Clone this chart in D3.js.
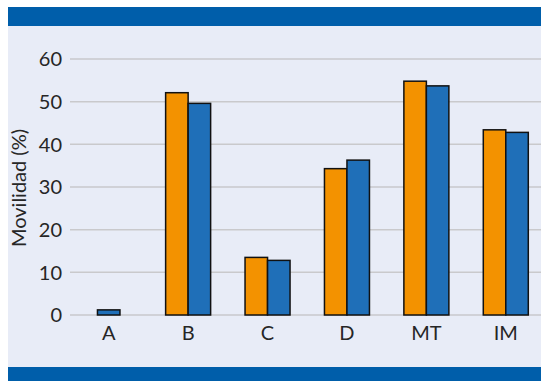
<!DOCTYPE html>
<html>
<head>
<meta charset="utf-8">
<script src="https://cdn.jsdelivr.net/npm/d3@7"></script>
<style>
  html, body { margin: 0; padding: 0; background: #fff; }
  svg { display: block; font-family: "Lato", "Noto Sans", sans-serif; }
</style>
</head>
<body>
<script>
const categories = ['A', 'B', 'C', 'D', 'MT', 'IM'];
const seriesOrange = [null, 52.1, 13.5, 34.3, 54.8, 43.4];
const seriesBlue = [1.2, 49.6, 12.8, 36.3, 53.7, 42.8];
const yTicks = [0, 10, 20, 30, 40, 50, 60];

const width = 541,
      height = 381;

const svg = d3.select('body')
              .append('svg')
              .attr('width', width)
              .attr('height', height);

// panel background and the two blue bands
svg.append('rect')
   .attr('x', 8).attr('y', 7)
   .attr('width', width - 8).attr('height', height - 7)
   .attr('fill', '#e8ecf7');
svg.append('rect')
   .attr('x', 8).attr('y', 7)
   .attr('width', width - 8).attr('height', 19)
   .attr('fill', '#005eaa');
svg.append('rect')
   .attr('x', 8).attr('y', 367)
   .attr('width', width - 8).attr('height', 14)
   .attr('fill', '#005eaa');

const y = d3.scaleLinear()
            .domain([0, 60])
            .range([315, 59]);

const x = d3.scaleBand()
            .domain(categories)
            .range([69, 545.5]);

const barW = 22.5;

// grid
svg.append('g')
   .selectAll('line')
   .data(yTicks)
   .enter()
   .append('line')
   .attr('x1', 70)
   .attr('x2', width)
   .attr('y1', d => y(d))
   .attr('y2', d => y(d))
   .attr('stroke', '#c9c9cc')
   .attr('stroke-width', 1.5);

svg.append('g')
   .selectAll('text')
   .data(yTicks)
   .enter()
   .append('text')
   .attr('x', 62)
   .attr('y', d => y(d))
   .attr('dy', '0.36em')
   .attr('text-anchor', 'end')
   .attr('font-size', 20)
   .attr('fill', '#262626')
   .text(d => d);

svg.append('text')
   .attr('transform', 'translate(26,' + 188 + ') rotate(-90)')
   .attr('text-anchor', 'middle')
   .attr('font-size', 20)
   .attr('fill', '#262626')
   .text('Movilidad (%)');

const rows = categories.map((c, i) => ({ cat: c, orange: seriesOrange[i], blue: seriesBlue[i] }));

const center = d => x(d.cat) + x.bandwidth() / 2;

// orange bars
svg.append('g')
   .selectAll('rect')
   .data(rows.filter(d => d.orange != null))
   .enter()
   .append('rect')
   .attr('x', d => center(d) - barW)
   .attr('y', d => y(d.orange))
   .attr('width', barW)
   .attr('height', d => y(0) - y(d.orange))
   .attr('fill', '#f39200')
   .attr('stroke', '#111')
   .attr('stroke-width', 1.5);

// blue bars
svg.append('g')
   .selectAll('rect')
   .data(rows)
   .enter()
   .append('rect')
   .attr('x', d => d.orange == null ? center(d) - barW / 2 : center(d))
   .attr('y', d => y(d.blue))
   .attr('width', barW)
   .attr('height', d => y(0) - y(d.blue))
   .attr('fill', '#1f6fb8')
   .attr('stroke', '#111')
   .attr('stroke-width', 1.5);

svg.append('g')
   .selectAll('text')
   .data(categories)
   .enter()
   .append('text')
   .attr('x', d => x(d) + x.bandwidth() / 2)
   .attr('y', 340)
   .attr('text-anchor', 'middle')
   .attr('font-size', 20)
   .attr('fill', '#262626')
   .text(d => d);
</script>
</body>
</html>
